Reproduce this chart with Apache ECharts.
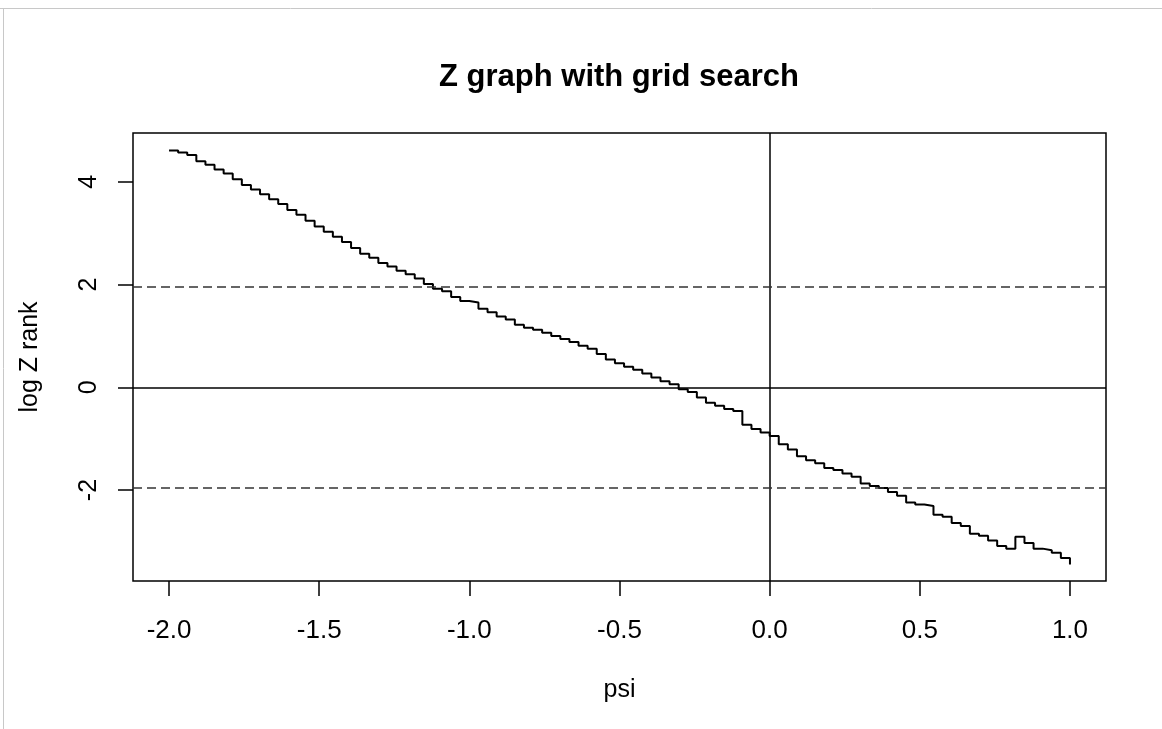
<!DOCTYPE html>
<html>
<head>
<meta charset="utf-8">
<script src="https://cdn.jsdelivr.net/npm/echarts@6/dist/echarts.min.js"></script>
<style>
html,body{margin:0;padding:0;background:#fff;}
#chart{width:1162px;height:729px;}
</style>
</head>
<body>
<div id="chart"></div>
<script>
// grid of psi values
const psi = [-2,-1.9697,-1.9394,-1.9091,-1.8788,-1.8485,-1.8182,-1.7879,-1.7576,-1.7273,
  -1.6970,-1.6667,-1.6364,-1.6061,-1.5758,-1.5455,-1.5152,-1.4848,-1.4545,-1.4242,
  -1.3939,-1.3636,-1.3333,-1.3030,-1.2727,-1.2424,-1.2121,-1.1818,-1.1515,-1.1212,
  -1.0909,-1.0606,-1.0303,-1,-0.9697,-0.9394,-0.9091,-0.8788,-0.8485,-0.8182,
  -0.7879,-0.7576,-0.7273,-0.6970,-0.6667,-0.6364,-0.6061,-0.5758,-0.5455,-0.5152,
  -0.4848,-0.4545,-0.4242,-0.3939,-0.3636,-0.3333,-0.3030,-0.2727,-0.2424,-0.2121,
  -0.1818,-0.1515,-0.1212,-0.0909,-0.0606,-0.0303,0,0.0303,0.0606,0.0909,
  0.1212,0.1515,0.1818,0.2121,0.2424,0.2727,0.3030,0.3333,0.3636,0.3939,
  0.4242,0.4545,0.4848,0.5152,0.5455,0.5758,0.6061,0.6364,0.6667,0.6970,
  0.7273,0.7576,0.7879,0.8182,0.8485,0.8788,0.9091,0.9394,0.9697,1];
// log Z rank values
const logZ = [4.61,4.57,4.52,4.40,4.33,4.24,4.16,4.05,3.94,3.85,
  3.76,3.66,3.57,3.45,3.36,3.24,3.13,3.03,2.93,2.83,
  2.71,2.60,2.52,2.42,2.35,2.27,2.20,2.12,2.01,1.92,
  1.87,1.76,1.68,1.65,1.53,1.46,1.38,1.32,1.22,1.16,
  1.12,1.06,1.00,0.94,0.88,0.81,0.75,0.65,0.54,0.47,
  0.40,0.34,0.27,0.19,0.12,0.06,-0.04,-0.09,-0.20,-0.30,
  -0.36,-0.42,-0.46,-0.73,-0.81,-0.88,-0.95,-1.11,-1.21,-1.34,
  -1.42,-1.48,-1.57,-1.61,-1.68,-1.74,-1.87,-1.92,-1.96,-2.04,
  -2.11,-2.24,-2.28,-2.31,-2.48,-2.52,-2.64,-2.70,-2.85,-2.89,
  -2.98,-3.09,-3.14,-2.91,-3.03,-3.14,-3.17,-3.22,-3.32,-3.45];
const xTicks = [-2, -1.5, -1, -0.5, 0, 0.5, 1];
const yTicks = [-2, 0, 2, 4];
const solidH = [0];
const solidV = [0];
const dashedH = [-1.96, 1.96];

const FONT = '"Liberation Sans", Arial, sans-serif';
const chart = echarts.init(document.getElementById('chart'), null, {renderer: 'canvas'});
const option = {
  animation: false,
  backgroundColor: '#fff',
  title: {
    text: 'Z graph with grid search',
    left: 614, top: 57, textAlign: 'center',
    textStyle: {fontFamily: FONT, fontSize: 31, fontWeight: 'bold', color: '#000'}
  },
  graphic: [
    {type: 'line', shape: {x1: 0, y1: 8.5, x2: 1162, y2: 8.5}, style: {stroke: '#c8c8c8', lineWidth: 1}},
    {type: 'line', shape: {x1: 3.5, y1: 8, x2: 3.5, y2: 729}, style: {stroke: '#c8c8c8', lineWidth: 1}}
  ],
  grid: {left: 133, top: 133, width: 973, height: 448, show: true, borderColor: '#000', borderWidth: 1.5, backgroundColor: 'transparent'},
  xAxis: {
    type: 'value', min: -2.12, max: 1.12,
    name: 'psi', nameLocation: 'middle', nameGap: 97,
    nameTextStyle: {fontFamily: FONT, fontSize: 25, color: '#000'},
    axisLine: {show: false, onZero: false},
    axisTick: {show: true, length: 15, customValues: xTicks, lineStyle: {color: '#000', width: 1.5}},
    axisLabel: {customValues: xTicks, margin: 37, fontFamily: FONT, fontSize: 26, color: '#000',
      formatter: v => v.toFixed(1)},
    splitLine: {show: false}
  },
  yAxis: {
    type: 'value', min: -3.77, max: 4.95,
    name: 'log Z rank', nameLocation: 'middle', nameGap: 90,
    nameTextStyle: {fontFamily: FONT, fontSize: 25, color: '#000'},
    axisLine: {show: false, onZero: false},
    axisTick: {show: true, length: 15, customValues: yTicks, lineStyle: {color: '#000', width: 1.5}},
    axisLabel: {customValues: yTicks, margin: 31, rotate: 90, fontFamily: FONT, fontSize: 25, color: '#000'},
    splitLine: {show: false}
  },
  series: [{
    type: 'line', step: 'end', symbol: 'none',
    data: psi.map((x, i) => [x, logZ[i]]),
    lineStyle: {color: '#000', width: 2},
    markLine: {
      silent: true, symbol: 'none', label: {show: false},
      data: [
        ...solidH.map(v => ({yAxis: v, lineStyle: {color: '#000', width: 1.5, type: 'solid'}})),
        ...solidV.map(v => ({xAxis: v, lineStyle: {color: '#000', width: 1.5, type: 'solid'}})),
        ...dashedH.map(v => ({yAxis: v, lineStyle: {color: '#333', width: 1.5, type: [9, 5]}}))
      ]
    }
  }]
};
chart.setOption(option);
</script>
</body>
</html>
